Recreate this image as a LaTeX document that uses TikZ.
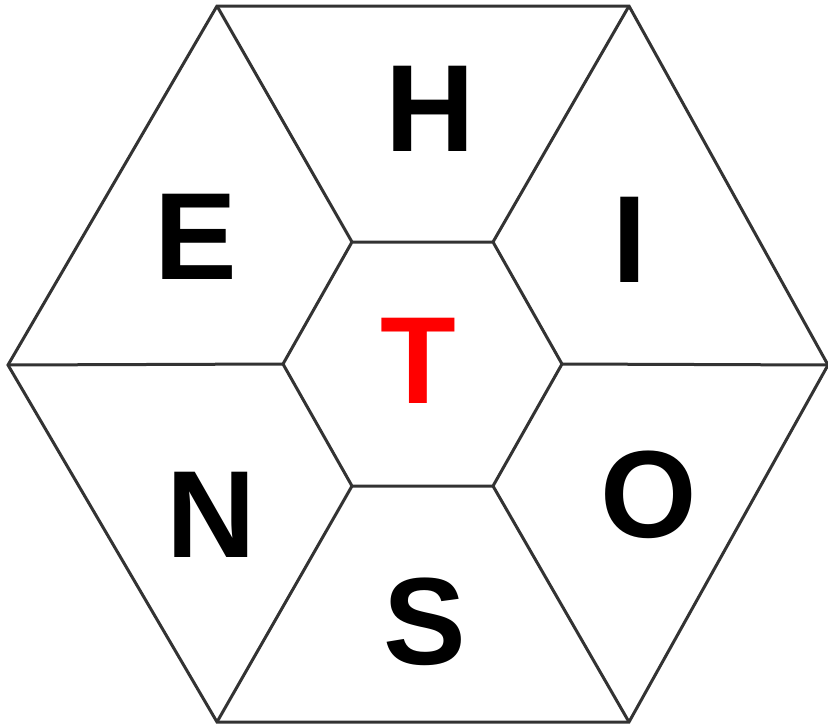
\documentclass[tikz,border=0pt]{standalone}
\usepackage{fontspec}
\setmainfont{Liberation Sans}
\begin{document}
\begin{tikzpicture}[x=1pt,y=-1pt,
  edge/.style={draw={rgb,255:red,51;green,51;blue,51},line width=3pt,line join=miter},
  letter/.style={inner sep=0pt,font=\fontsize{124}{124}\selectfont\bfseries}]
\useasboundingbox (0,0) rectangle (828,728);
% outer vertices
\coordinate (o1) at (217,6);
\coordinate (o2) at (629,6);
\coordinate (o3) at (828,365);
\coordinate (o4) at (629,722);
\coordinate (o5) at (217,722);
\coordinate (o6) at (8,365);
% inner vertices
\coordinate (i1) at (352,242);
\coordinate (i2) at (493,242);
\coordinate (i3) at (562,364);
\coordinate (i4) at (493,486);
\coordinate (i5) at (352,486);
\coordinate (i6) at (283,364);
\draw[edge] (o1) -- (o2) -- (o3) -- (o4) -- (o5) -- (o6) -- cycle;
\draw[edge] (i1) -- (i2) -- (i3) -- (i4) -- (i5) -- (i6) -- cycle;
\draw[edge] (i1) -- (o1);
\draw[edge] (i2) -- (o2);
\draw[edge] (i3) -- (o3);
\draw[edge] (i4) -- (o4);
\draw[edge] (i5) -- (o5);
\draw[edge] (i6) -- (o6);
\node[letter] (H) at (430,109) {H};
\node[letter] (E) at (196,237) {E};
\node[letter] (I) at (630,240) {I};
\node[letter] (N) at (211,515) {N};
\node[letter] (O) at (649,495) {O};
\node[letter] (S) at (425,622) {S};
\node[letter,text=red] (T) at (418,361) {T};
\end{tikzpicture}
\end{document}
